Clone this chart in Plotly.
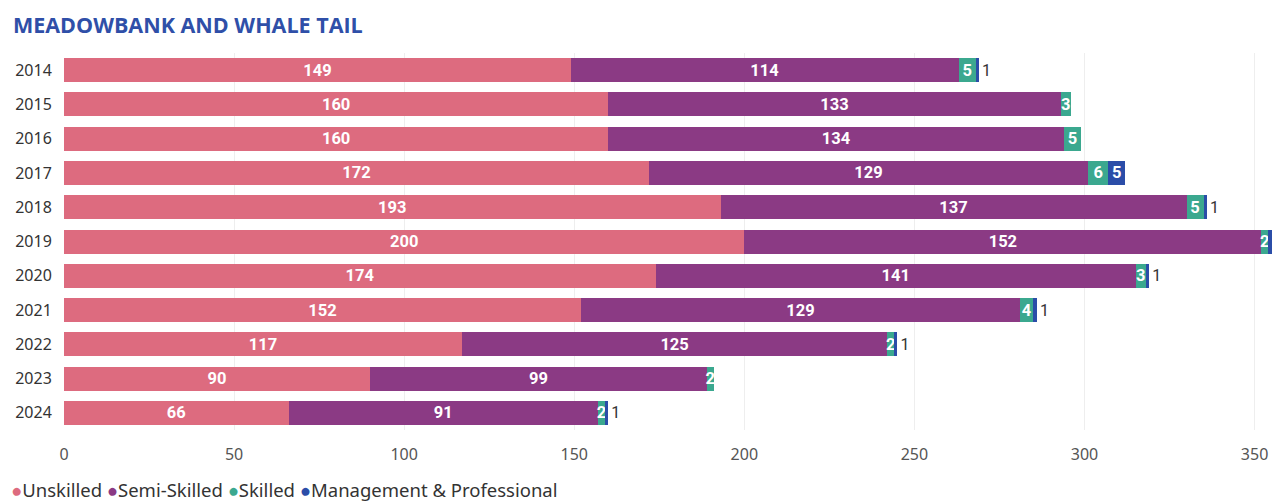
import plotly.graph_objects as go

years = ["2014", "2015", "2016", "2017", "2018", "2019", "2020", "2021", "2022", "2023", "2024"]
unskilled = [149, 160, 160, 172, 193, 200, 174, 152, 117, 90, 66]
semi_skilled = [114, 133, 134, 129, 137, 152, 141, 129, 125, 99, 91]
skilled = [5, 3, 5, 6, 5, 2, 3, 4, 2, 2, 2]
management = [1, 0, 0, 5, 1, 1, 1, 1, 1, 0, 1]

series = [
    ("Unskilled", unskilled, "#DD6B7F"),
    ("Semi-Skilled", semi_skilled, "#8B3A84"),
    ("Skilled", skilled, "#3BA88F"),
    ("Management & Professional", management, "#2B4DA8"),
]

fig = go.Figure()
for name, vals, color in series:
    text = [str(v) if v else "" for v in vals]
    # tiny segments get their label outside the bar
    pos = ["outside" if v <= 1 else "inside" for v in vals]
    fig.add_trace(go.Bar(
        y=years, x=vals, name=name, orientation="h",
        marker=dict(color=color, line=dict(width=0)),
        text=text, textposition=pos, constraintext="none", textangle=0,
        insidetextanchor="middle", cliponaxis=False,
        insidetextfont=dict(family="Roboto", size=16.5, color="white", weight="bold"),
        outsidetextfont=dict(family="Roboto", size=16, color="#333333"),
        showlegend=False, hoverinfo="x+name",
    ))

# legend drawn as one line of text with coloured dots
legend_text = "".join(
    f"<span style='color:{c}'>●</span>{n} " for n, _, c in series
)
fig.add_annotation(
    text=legend_text, xref="paper", yref="paper", x=-0.0455, y=-0.158,
    xanchor="left", yanchor="middle", showarrow=False,
    font=dict(family="Noto Sans", size=18.5, color="#333333"),
)

# page adds an 8px body margin, so the figure is sized to fit the window
fig.update_layout(
    barmode="stack",
    bargap=0.3,
    width=1274, height=493,
    margin=dict(l=56, r=7, t=45, b=71),
    paper_bgcolor="white", plot_bgcolor="white",
    showlegend=False,
    title=dict(text="<b>MEADOWBANK AND WHALE TAIL</b>", x=0.0039, xanchor="left", y=0.965, yanchor="middle",
               font=dict(family="Open Sans", size=21.5, color="#2F4FA8")),
    xaxis=dict(range=[0, 356], tickvals=[0, 50, 100, 150, 200, 250, 300, 350],
               showgrid=True, gridcolor="#EEEEEE", zeroline=False, automargin=False,
               tickfont=dict(family="Noto Sans", size=16, color="#555555"),
               ticks="outside", tickcolor="rgba(0,0,0,0)", ticklen=10),
    yaxis=dict(autorange="reversed", showgrid=False, automargin=False,
               tickfont=dict(family="Noto Sans", size=16, color="#333333"),
               ticks="outside", tickcolor="rgba(0,0,0,0)", ticklen=8),
)

fig.write_html("out.html")
